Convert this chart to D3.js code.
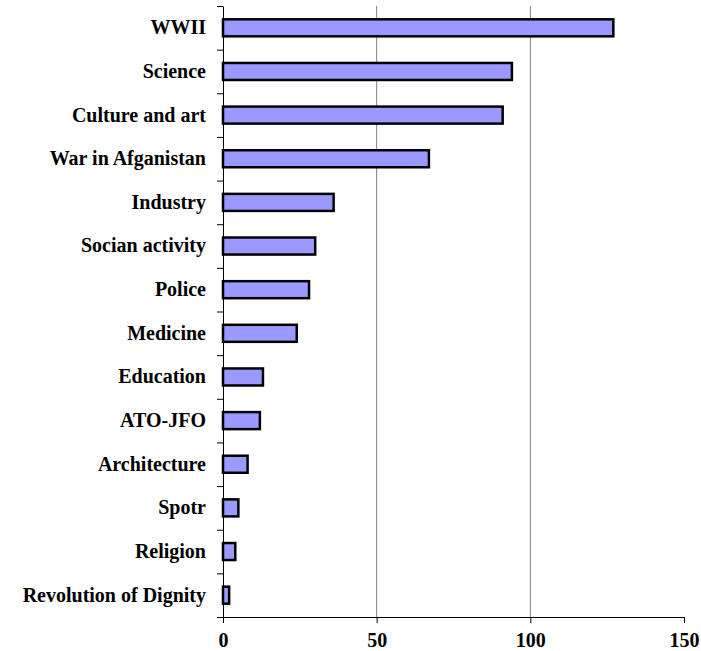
<!DOCTYPE html>
<html>
<head>
<meta charset="utf-8">
<script src="https://cdn.jsdelivr.net/npm/d3@7"></script>
<style>
  body { margin: 0; background: #fff; }
  text { font-family: "Liberation Serif", "Times New Roman", serif; font-weight: bold; }
</style>
</head>
<body>
<div id="chart"></div>
<script>
const categories = [
  "WWII", "Science", "Culture and art", "War in Afganistan", "Industry",
  "Socian activity", "Police", "Medicine", "Education", "ATO-JFO",
  "Architecture", "Spotr", "Religion", "Revolution of Dignity"
];
const values = [127, 94, 91, 67, 36, 30, 28, 24, 13, 12, 8, 5, 4, 2];
const xTicks = [0, 50, 100, 150];

const width = 701;
const height = 651;
const margin = { top: 6, right: 16, bottom: 34, left: 223 };
const plotBottom = 617;

const svg = d3
  .select("#chart")
  .append("svg")
  .attr("width", width)
  .attr("height", height);

const x = d3
  .scaleLinear()
  .domain([0, 150])
  .range([margin.left, 684]);

const y = d3
  .scaleBand()
  .domain(categories)
  .range([margin.top, plotBottom])
  .paddingInner(0.61)
  .paddingOuter(0.305);

// gridlines
svg
  .append("g")
  .selectAll("line")
  .data(xTicks.filter((d) => d > 0 && d < 150))
  .enter()
  .append("line")
  .attr("x1", (d) => x(d))
  .attr("x2", (d) => x(d))
  .attr("y1", margin.top)
  .attr("y2", plotBottom)
  .attr("stroke", "#808080")
  .attr("stroke-width", 1);

// bars
svg
  .append("g")
  .selectAll("rect")
  .data(values)
  .enter()
  .append("rect")
  .attr("x", x(0))
  .attr("y", (d, i) => y(categories[i]))
  .attr("width", (d) => x(d) - x(0))
  .attr("height", y.bandwidth())
  .attr("fill", "#9999ff")
  .attr("stroke", "#000")
  .attr("stroke-width", 2.5);

// y axis: ticks at band boundaries
const yEdge = d3.scaleLinear().domain([0, categories.length]).range([margin.top, plotBottom]);
svg
  .append("g")
  .attr("transform", `translate(${x(0)},0)`)
  .call(
    d3.axisLeft(yEdge)
      .tickValues(d3.range(categories.length + 1))
      .tickSize(6)
      .tickSizeOuter(0)
      .tickFormat("")
  )
  .call((g) => g.selectAll("line, path").attr("stroke", "#000"));

// y labels
svg
  .append("g")
  .attr("transform", `translate(${x(0)},0)`)
  .call(d3.axisLeft(y).tickSize(0).tickPadding(17))
  .call((g) => g.select(".domain").remove())
  .call((g) =>
    g.selectAll("text")
      .attr("font-size", 20)
      .attr("font-family", "Liberation Serif, Times New Roman, serif")
      .attr("fill", "#000")
  );

// x axis
svg
  .append("g")
  .attr("transform", `translate(0,${plotBottom})`)
  .call(d3.axisBottom(x).tickValues(xTicks).tickSize(6).tickSizeOuter(0).tickPadding(10))
  .call((g) => g.selectAll("line, path").attr("stroke", "#000"))
  .call((g) =>
    g.selectAll("text")
      .attr("font-size", 20)
      .attr("font-family", "Liberation Serif, Times New Roman, serif")
      .attr("fill", "#000")
  );
</script>
</body>
</html>
